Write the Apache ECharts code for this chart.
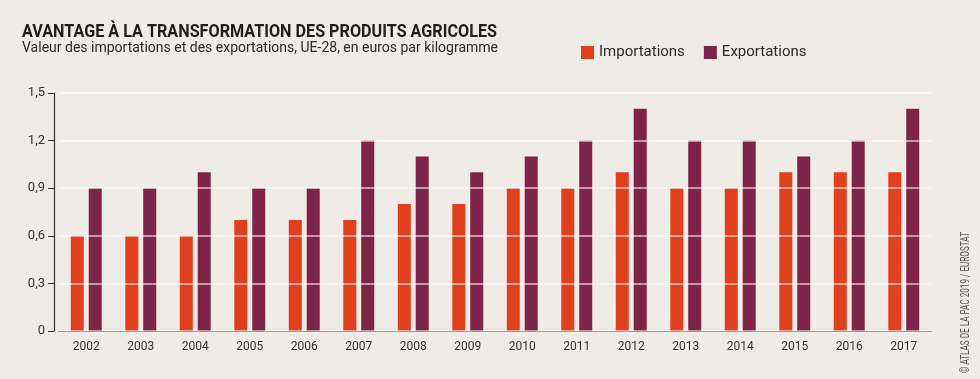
<!DOCTYPE html>
<html><head><meta charset="utf-8">
<script src="https://cdn.jsdelivr.net/npm/echarts@6/dist/echarts.min.js"></script>
<style>html,body{margin:0;padding:0;background:#efebe6;}#c{width:980px;height:379px;}</style>
</head><body><div id="c"></div>
<script>
const years = ['2002','2003','2004','2005','2006','2007','2008','2009','2010','2011','2012','2013','2014','2015','2016','2017'];
const importations = [0.6,0.6,0.6,0.7,0.7,0.7,0.8,0.8,0.9,0.9,1.0,0.9,0.9,1.0,1.0,1.0];
const exportations = [0.9,0.9,1.0,0.9,0.9,1.2,1.1,1.0,1.1,1.2,1.4,1.2,1.2,1.1,1.2,1.4];
const yTicks = [0,0.3,0.6,0.9,1.2,1.5];
const titleText = 'AVANTAGE À LA TRANSFORMATION DES PRODUITS AGRICOLES';
const subtitleText = 'Valeur des importations et des exportations, UE-28, en euros par kilogramme';
const creditText = '© ATLAS DE LA PAC 2019 / EUROSTAT';

const FONT = 'Roboto, sans-serif';
const ctx = document.createElement('canvas').getContext('2d');
function fitScale(font, text, target) { ctx.font = font; return target / ctx.measureText(text).width; }
const titleFont = 'bold 18px ' + FONT;
const subFont = '15.5px ' + FONT;
const creditFont = '12px ' + FONT;

const chart = echarts.init(document.getElementById('c'));
chart.setOption({
  backgroundColor: '#efebe6',
  animation: false,
  legend: {
    left: 581, top: 45, padding: 0, itemWidth: 13, itemHeight: 13, itemGap: 19,
    icon: 'rect',
    textStyle: {fontFamily: FONT, fontSize: 15, color: '#2a2a2a'},
    data: ['Importations','Exportations']
  },
  graphic: [{
    type: 'text', x: 22, y: 23, scaleX: fitScale(titleFont, titleText, 475),
    style: {text: titleText, font: titleFont, fill: '#1e1e1e'}
  },{
    type: 'text', x: 22, y: 40, scaleX: fitScale(subFont, subtitleText, 476),
    style: {text: subtitleText, font: subFont, fill: '#2a2a2a'}
  },{
    type: 'text', x: 966, y: 373, rotation: Math.PI/2, scaleX: fitScale(creditFont, creditText, 141),
    style: {text: creditText, font: creditFont, fill: '#555', textAlign: 'left', textVerticalAlign: 'middle'}
  }],
  grid: {left: 59, right: 49, top: 93, bottom: 48},
  xAxis: {
    type: 'category', data: years,
    axisLine: {lineStyle: {color: '#333', width: 1.2}},
    axisTick: {alignWithLabel: true, length: 5, lineStyle: {color: '#333'}},
    axisLabel: {fontFamily: FONT, fontSize: 12, color: '#333', margin: 10}
  },
  yAxis: {
    type: 'value', min: 0, max: 1.5, interval: 0.3, offset: 5, z: 5,
    axisLine: {show: true, lineStyle: {color: '#333', width: 1.2}},
    axisTick: {show: true, length: 6, lineStyle: {color: '#333'}},
    axisLabel: {fontFamily: FONT, fontSize: 13, color: '#333', margin: 9,
      formatter: v => { const t = yTicks.find(x => Math.abs(x - v) < 1e-9); return t === 0 ? '0' : String(+v.toFixed(1)).replace('.', ','); }},
    splitLine: {show: true, lineStyle: {color: 'rgba(255,255,255,0.7)', width: 1.5}}
  },
  series: [{
    name: 'Importations', type: 'bar', data: importations,
    barWidth: 13, barGap: '38%', itemStyle: {color: '#e2401d'}
  },{
    name: 'Exportations', type: 'bar', data: exportations,
    barWidth: 13, itemStyle: {color: '#7e2448'}
  }]
});
</script></body></html>
